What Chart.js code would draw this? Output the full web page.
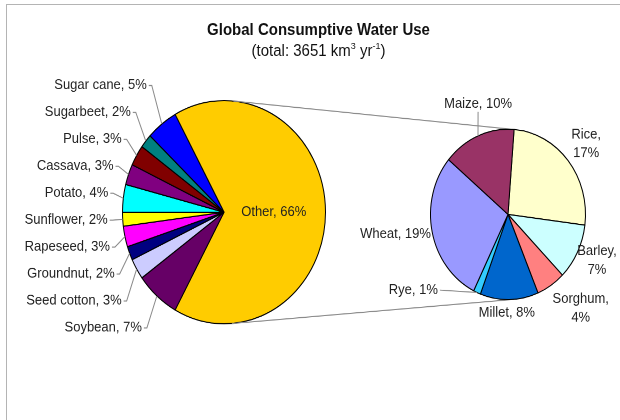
<!DOCTYPE html>
<html>
<head>
<meta charset="utf-8">
<title>Global Consumptive Water Use</title>
<script src="https://cdn.jsdelivr.net/npm/chart.js@4.4.1/dist/chart.umd.min.js"></script>
<style>
  html, body { margin: 0; padding: 0; background: #fff; }
  body { width: 620px; height: 420px; overflow: hidden; position: relative; font-family: "Liberation Sans", Arial, sans-serif; }
  .frame { position: absolute; left: 6px; top: 4px; right: -4px; bottom: -4px; border-left: 1px solid #b4b4b4; border-top: 1px solid #b4b4b4; }
  /* the source picture is stretched ~10% vertically, so the whole stage is too */
  .stage { position: absolute; left: 0; top: 0; width: 620px; height: 382px; transform: scaleY(1.0995); transform-origin: 0 0; }
  .stage canvas { position: absolute; left: 0; top: 0; }
  .title { position: absolute; left: 0; width: 637px; text-align: center; color: #111; line-height: 17px; white-space: nowrap; }
  #t1 { top: 18px; font-weight: bold; font-size: 15px; }
  #t2 { top: 37px; font-size: 15px; }
  #t2 sup { font-size: 9px; line-height: 0; vertical-align: 6px; }
</style>
</head>
<body>
<div class="frame"></div>
<div class="stage">
  <div class="title" id="t1">Global Consumptive Water Use</div>
  <div class="title" id="t2">(total: 3651 km<sup>3</sup> yr<sup>-1</sup>)</div>
  <canvas id="mainPie" width="620" height="382"></canvas>
  <canvas id="otherPie" width="620" height="382"></canvas>
</div>
<script>
// left pie, clockwise from "Other"
const mainLabels = ["Other", "Soybean", "Seed cotton", "Groundnut", "Rapeseed", "Sunflower", "Potato", "Cassava", "Pulse", "Sugarbeet", "Sugar cane"];
const mainValues = [66, 7, 3, 2, 3, 2, 4, 3, 3, 2, 5];
const mainColors = ["#FFCC00", "#660066", "#CCCCFF", "#000080", "#FF00FF", "#FFFF00", "#00FFFF", "#800080", "#800000", "#008080", "#0000FF"];

// right pie: the break-down of "Other", clockwise from the top
const otherLabels = ["Rice", "Barley", "Sorghum", "Millet", "Rye", "Wheat", "Maize"];
const otherValues = [17, 7, 4, 8, 1, 19, 10];
const otherColors = ["#FFFFCC", "#CCFFFF", "#FF8080", "#0066CC", "#33CCFF", "#9999FF", "#993366"];

const FONT = "13px 'Liberation Sans', Arial, sans-serif";
const TEXT = "#222";
const LEADER = "#8a8a8a";

// labels moved by hand in the original; the far ones get a leader line
const labelNudge = { Maize: [14, -21.5], Rye: [-53, -10] };
const labelShift = { Rice: [5, -4.5], Sorghum: [13, 7], Millet: [-3, 3.5] };

const mainTotal = mainValues.reduce((s, v) => s + v, 0);
// "Other" is centred on the side facing the second pie
const mainRotation = 90 - (mainValues[0] / mainTotal) * 180;

const mainLabelPlugin = {
  id: "mainLabelPlugin",
  afterDatasetsDraw(chart) {
    const ctx = chart.ctx;
    const arcs = chart.getDatasetMeta(0).data;
    const cx = arcs[0].x, cy = arcs[0].y, r = arcs[0].outerRadius;
    ctx.save();
    ctx.font = FONT;
    ctx.fillStyle = TEXT;
    ctx.textBaseline = "middle";

    const a0 = arcs[0];
    const m0 = (a0.startAngle + a0.endAngle) / 2;
    ctx.textAlign = "center";
    ctx.fillText(mainLabels[0] + ", " + mainValues[0] + "%", cx + Math.cos(m0) * r * 0.49, cy + Math.sin(m0) * r * 0.49);

    // the small slices get a column of labels on the left
    const n = arcs.length - 1;
    ctx.textAlign = "right";
    ctx.strokeStyle = LEADER;
    ctx.lineWidth = 1;
    for (let k = 0; k < n; k++) {
      const i = n - k;
      const a = arcs[i];
      const mid = (a.startAngle + a.endAngle) / 2;
      const ex = cx + Math.cos(mid) * r;
      const ey = cy + Math.sin(mid) * r;
      const ly = cy - 5.5 + (k - (n - 1) / 2) * 24.5;
      const lx = ex - 15;
      ctx.fillText(mainLabels[i] + ", " + mainValues[i] + "%", lx, ly);
      ctx.beginPath();
      ctx.moveTo(lx + 2, ly + 0.5);
      ctx.lineTo(lx + 5, ly + 0.5);
      ctx.lineTo(ex, ey);
      ctx.stroke();
    }
    ctx.restore();
  }
};

const mainChart = new Chart(document.getElementById("mainPie"), {
  type: "pie",
  data: {
    labels: mainLabels,
    datasets: [{
      data: mainValues,
      backgroundColor: mainColors,
      borderColor: "#000",
      borderWidth: 1
    }]
  },
  options: {
    responsive: false,
    devicePixelRatio: 2,
    animation: false,
    events: [],
    rotation: mainRotation,
    layout: { padding: { left: 122, right: 294, top: 91, bottom: 87 } },
    plugins: { legend: { display: false }, tooltip: { enabled: false } }
  },
  plugins: [mainLabelPlugin]
});

const otherLabelPlugin = {
  id: "otherLabelPlugin",
  beforeDatasetsDraw(chart) {
    // connector lines: the outer tangents of the two pies
    const a = mainChart.getDatasetMeta(0).data[0];
    const b = chart.getDatasetMeta(0).data[0];
    const dx = b.x - a.x, dy = b.y - a.y;
    const len = Math.hypot(dx, dy);
    const base = Math.atan2(dy, dx);
    const phi = Math.acos((a.outerRadius - b.outerRadius) / len);
    const ctx = chart.ctx;
    ctx.save();
    ctx.strokeStyle = LEADER;
    ctx.lineWidth = 1;
    [-phi, phi].forEach(p => {
      const nx = Math.cos(base + p), ny = Math.sin(base + p);
      ctx.beginPath();
      ctx.moveTo(a.x + nx * a.outerRadius, a.y + ny * a.outerRadius);
      ctx.lineTo(b.x + nx * b.outerRadius, b.y + ny * b.outerRadius);
      ctx.stroke();
    });
    ctx.restore();
  },
  afterDatasetsDraw(chart) {
    const ctx = chart.ctx;
    const arcs = chart.getDatasetMeta(0).data;
    const cx = arcs[0].x, cy = arcs[0].y, r = arcs[0].outerRadius;
    const lh = 17, gap = 2;
    ctx.save();
    ctx.font = FONT;
    ctx.fillStyle = TEXT;
    ctx.strokeStyle = LEADER;
    ctx.lineWidth = 1;
    ctx.textAlign = "center";
    ctx.textBaseline = "middle";
    arcs.forEach((arc, i) => {
      const mid = (arc.startAngle + arc.endAngle) / 2;
      const ux = Math.cos(mid), uy = Math.sin(mid);
      const lines = ux > 0.3
        ? [otherLabels[i] + ",", otherValues[i] + "%"]
        : [otherLabels[i] + ", " + otherValues[i] + "%"];
      const w = Math.max(...lines.map(t => ctx.measureText(t).width));
      const h = lines.length * lh - 4;
      const ax = cx + ux * (r + gap), ay = cy + uy * (r + gap);
      const nudge = labelNudge[otherLabels[i]];
      const shift = labelShift[otherLabels[i]] || nudge || [0, 0];
      const bx = ax + ux * w / 2 + shift[0];
      const by = ay + uy * h / 2 + shift[1];
      lines.forEach((t, j) => ctx.fillText(t, bx, by - (lines.length * lh) / 2 + lh * (j + 0.5)));
      if (nudge) {
        const ex = cx + ux * r, ey = cy + uy * r;
        let sx = bx, sy = by;
        if (ey > by + h / 2 + 2) sy = by + h / 2 + 1;
        else if (ey < by - h / 2 - 2) sy = by - h / 2 - 1;
        else if (ex > bx) sx = bx + w / 2 + 2;
        else sx = bx - w / 2 - 2;
        ctx.beginPath();
        ctx.moveTo(sx, sy);
        ctx.lineTo(ex, ey);
        ctx.stroke();
      }
    });
    ctx.restore();
  }
};

new Chart(document.getElementById("otherPie"), {
  type: "pie",
  data: {
    labels: otherLabels,
    datasets: [{
      data: otherValues,
      backgroundColor: otherColors,
      borderColor: "#000",
      borderWidth: 1
    }]
  },
  options: {
    responsive: false,
    devicePixelRatio: 2,
    animation: false,
    events: [],
    rotation: 4.5,
    layout: { padding: { left: 430, right: 34, top: 117, bottom: 109 } },
    plugins: { legend: { display: false }, tooltip: { enabled: false } }
  },
  plugins: [otherLabelPlugin]
});
</script>
</body>
</html>
